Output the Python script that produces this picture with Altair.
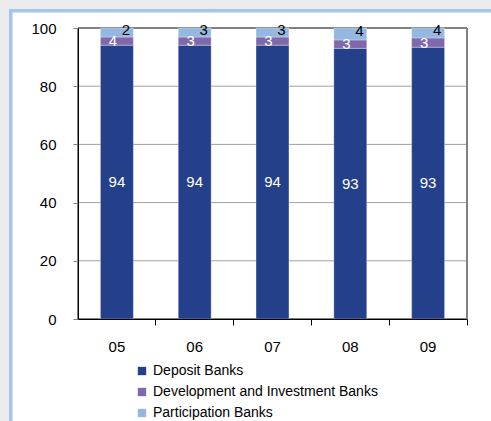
import altair as alt
import pandas as pd

years = ["05", "06", "07", "08", "09"]
series = ["Deposit Banks", "Development and Investment Banks", "Participation Banks"]
deposit = [94.1, 94.1, 94.1, 93.0, 93.4]
development = [2.8, 2.8, 2.8, 2.9, 3.2]
participation = [3.1, 3.1, 3.1, 4.1, 3.4]
deposit_labels = ["94", "94", "94", "93", "93"]
development_labels = ["4", "3", "3", "3", "3"]
participation_labels = ["2", "3", "3", "4", "4"]
y_ticks = [0, 20, 40, 60, 80, 100]
colors = ["#24408a", "#8068ad", "#94b8df"]

rows = []
for i, y in enumerate(years):
    for k, (vals, labs) in enumerate([(deposit, deposit_labels), (development, development_labels), (participation, participation_labels)]):
        rows.append({"year": y, "series": series[k], "ord": k, "value": vals[i], "label": labs[i]})
df = pd.DataFrame(rows)
grid_df = pd.DataFrame({"v": y_ticks[1:]})

FONT = "Liberation Sans"
yscale = alt.Scale(domain=[0, 100], nice=False)
yaxis = alt.Axis(values=y_ticks, grid=False,
                 domainColor="#000000", tickColor="#808080", tickSize=5,
                 labelFontSize=15, labelFont=FONT, labelColor="#000000", labelPadding=17,
                 zindex=2)

base = alt.Chart(df).transform_stack(
    stack="value", groupby=["year"], as_=["v0", "v1"], sort=[alt.SortField("ord")]
).transform_calculate(mid="(datum.v0 + datum.v1) / 2")

xs = alt.X("year:N", title=None, sort=years,
           scale=alt.Scale(paddingInner=0.577, paddingOuter=0.2885),
           axis=alt.Axis(labelAngle=0, ticks=False, domainColor="#000000", labelFontSize=15,
                         labelFont=FONT, labelColor="#000000", labelPadding=20, zindex=2,
                         orient="bottom"))
ys = alt.Y("v0:Q", title=None, scale=yscale, axis=yaxis)

panel = alt.Chart(df).mark_rect(fill="#ffffff", stroke="#a4c6e8", strokeWidth=3).encode(
    x=alt.value(-67), x2=alt.value(440), y=alt.value(-17), y2=alt.value(420))

grid = alt.Chart(grid_df).mark_rule(color="#a0a0a0", strokeWidth=1).encode(
    y=alt.Y("v:Q", scale=yscale, title=None, axis=yaxis))

frame = alt.Chart(df).mark_rect(fill=None, stroke="#808080", strokeWidth=1).encode(
    x=alt.value(0), x2=alt.value(389), y=alt.value(0), y2=alt.value(291))

bars = base.mark_bar(stroke="#ffffff", strokeWidth=0.6, strokeOpacity=0.5).encode(
    x=xs, y=ys, y2="v1:Q",
    color=alt.Color("series:N", sort=series,
                    scale=alt.Scale(domain=series, range=colors),
                    legend=alt.Legend(title=None, orient="none", legendX=57, legendY=336,
                                      symbolType="square", symbolSize=70, symbolStrokeWidth=0,
                                      labelFontSize=14, labelFont=FONT, labelColor="#000000",
                                      labelLimit=0, rowPadding=7, labelOffset=4)),
    order=alt.Order("ord:Q"),
)

t_dep = base.transform_filter(alt.datum.ord == 0).mark_text(
    color="#ffffff", fontSize=15, font=FONT, baseline="middle").encode(
    x=alt.X("year:N", sort=years), y="mid:Q", text="label:N")
t_dev = base.transform_filter(alt.datum.ord == 1).mark_text(
    color="#ffffff", fontSize=15, font=FONT, baseline="middle", dx=-4).encode(
    x=alt.X("year:N", sort=years), y="mid:Q", text="label:N")
t_par = base.transform_filter(alt.datum.ord == 2).mark_text(
    color="#000000", fontSize=15, font=FONT, baseline="middle", dx=9, dy=-3).encode(
    x=alt.X("year:N", sort=years), y="mid:Q", text="label:N")

# extra axis for tick marks at category boundaries
tick_layer = alt.Chart(df).mark_bar(opacity=0).encode(
    x=alt.X("year:N", sort=years, title=None,
            scale=alt.Scale(type="band", paddingInner=0, paddingOuter=0),
            axis=alt.Axis(labels=False, domain=False, ticks=True, tickSize=6,
                          tickColor="#000000", bandPosition=1, zindex=2, orient="bottom")),
)

chart = alt.layer(panel, grid, frame, bars, t_dep, t_dev, t_par, tick_layer).resolve_scale(
    x="independent").resolve_axis(x="independent").properties(
    width=389, height=291,
    autosize=alt.AutoSizeParams(type="none"),
    padding={"left": 78, "top": 28, "right": 24, "bottom": 102},
    background="#ebebeb",
).configure_view(stroke=None)

chart.save("out.html", embed_options={"renderer": "svg", "actions": False})
